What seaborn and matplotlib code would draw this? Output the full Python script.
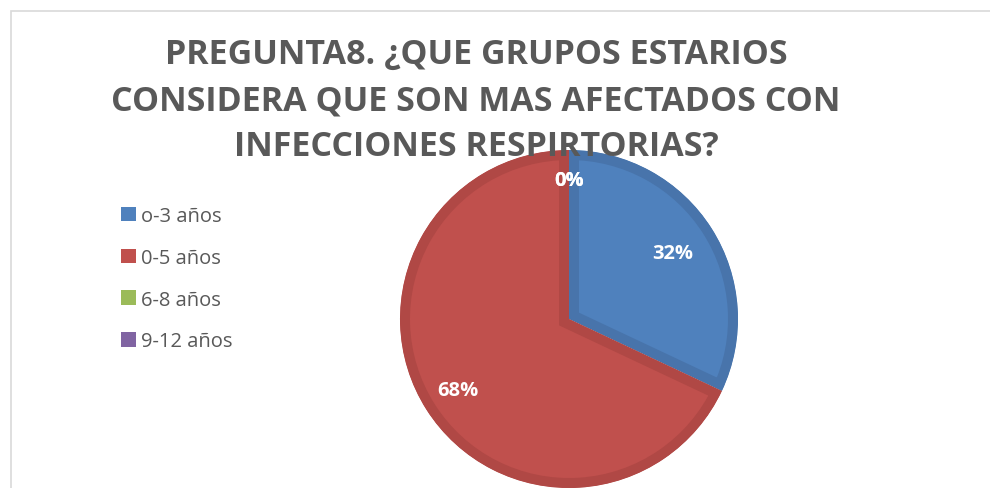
import matplotlib
matplotlib.use("Agg")
import matplotlib.pyplot as plt
from matplotlib.patches import Rectangle, Patch
import numpy as np
import seaborn as sns

# data
categories = ["o-3 años", "0-5 años", "6-8 años", "9-12 años"]
values = [32, 68, 0, 0]
pct_labels = ["32%", "68%", "0%", "0%"]
title = "PREGUNTA8. ¿QUE GRUPOS ESTARIOS\nCONSIDERA QUE SON MAS AFECTADOS CON\nINFECCIONES RESPIRTORIAS?"

colors = ["#4F81BD", "#C0504D", "#9BBB59", "#8064A2"]
edge_colors = ["#4874AB", "#B04845", "#8AA850", "#725A91"]

sns.set_theme(style="white")
plt.rcParams["font.family"] = ["Open Sans", "DejaVu Sans"]

fig = plt.figure(figsize=(9.9, 4.89), dpi=100)
W, H = 990, 489

# chart frame (light grey border, top and left visible)
fig.patches.append(Rectangle((11 / W, -0.1), 1.2, (489 - 12) / H + 0.1,
                             transform=fig.transFigure, fill=False,
                             edgecolor="#D9D9D9", lw=1.2))

# pie axes: center (569, 320) px, radius 169 px
cx, cy, r = 569, 320, 169
ax = fig.add_axes([(cx - r) / W, (H - cy - r) / H, 2 * r / W, 2 * r / H])
wedges, texts = ax.pie(
    values, colors=colors, startangle=90, counterclock=False, radius=1,
    wedgeprops=dict(linewidth=0),
)
ax.set_xlim(-1, 1)
ax.set_ylim(-1, 1)
ax.set_aspect("equal")
ax.axis("off")

# darker inner rim on each slice, then the percentage labels
radii = [0.73, 0.78, 0.82, 0.82]
total = sum(values)
start = 90.0
for w, ec, lab, rr, v in zip(wedges, edge_colors, pct_labels, radii, values):
    if v > 0:
        w.set_edgecolor(ec)
        w.set_linewidth(14.4)
        w.set_clip_on(True)
        w.set_clip_box(None)
        w.set_clip_path(w)
    ang = np.deg2rad(start - 360 * v / total / 2)
    start -= 360 * v / total
    ax.text(rr * np.cos(ang), rr * np.sin(ang), lab, ha="center", va="center",
            color="white", fontsize=14.5, fontweight="bold")

# title
fig.text(476 / W, 1 - 101 / H, title, ha="center", va="center",
         fontsize=24.5, fontweight="bold", color="#595959", linespacing=1.47)

# legend
handles = [Patch(facecolor=c, edgecolor="none") for c in colors]
leg = fig.legend(handles, categories, loc="upper left",
                 bbox_to_anchor=(103 / W, 1 - 189 / H), frameon=False,
                 fontsize=14.5, handlelength=0.72, handleheight=0.72,
                 handletextpad=0.25, labelspacing=1.08, labelcolor="#595959")

fig.savefig("out.png", dpi=100)
